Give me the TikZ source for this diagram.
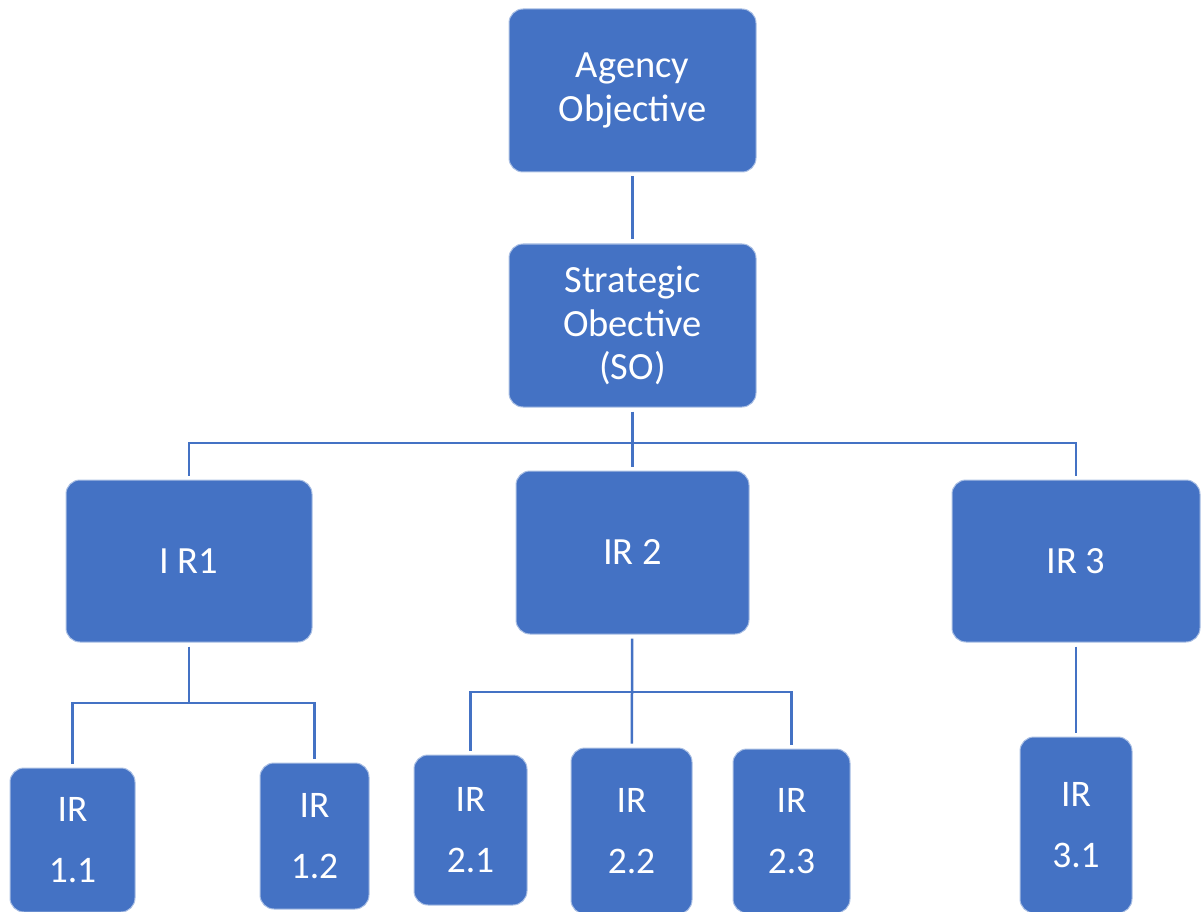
\documentclass[tikz,border=0pt]{standalone}
\usepackage{fontspec}
\setmainfont{Carlito}
\definecolor{boxblue}{HTML}{4472C4}

\tikzset{
  objbox/.style={rectangle, rounded corners=14pt, fill=boxblue, draw=boxblue!45!white, line width=1pt,
    text=white, align=center, inner sep=0pt, font=\fontsize{38.5}{43.5}\selectfont},
  subbox/.style={objbox, font=\fontsize{37.5}{61}\selectfont},
  link/.style={draw=boxblue, line width=2.5pt, shorten >=4pt},
  both/.style={link, shorten <=4pt}
}

\begin{document}
\begin{tikzpicture}[x=1pt, y=-1pt]
  \useasboundingbox (0,0) rectangle (1202,912);
  \clip (0,0) rectangle (1202,912);
  % top levels
  \node[objbox, minimum width=247pt, minimum height=163pt] (agency) at (632.5,90.5) {Agency\\Objective};
  \node[objbox, minimum width=247pt, minimum height=163pt] (so) at (632.5,325.5) {Strategic\\Obective\\(SO)};
  % intermediate results
  \node[objbox, minimum width=246pt, minimum height=162pt] (ir1) at (189,561) {I R1};
  \node[objbox, minimum width=233pt, minimum height=163pt] (ir2) at (632.5,552.5) {IR 2};
  \node[objbox, minimum width=248pt, minimum height=162pt] (ir3) at (1076,561) {IR 3};
  % sub results
  \node[subbox, minimum width=125pt, minimum height=144pt] (ir11) at (72.5,840) {IR\\1.1};
  \node[subbox, minimum width=109pt, minimum height=146pt] (ir12) at (314.5,836) {IR\\1.2};
  \node[subbox, minimum width=113pt, minimum height=150pt] (ir21) at (470.5,830) {IR\\2.1};
  \node[subbox, minimum width=121pt, minimum height=166pt] (ir22) at (631.5,831) {IR\\2.2};
  \node[subbox, minimum width=117pt, minimum height=164pt] (ir23) at (791.5,831) {IR\\2.3};
  \node[subbox, minimum width=112pt, minimum height=176pt] (ir31) at (1076,825) {IR\\3.1};
  % junctions
  \coordinate (j0) at (632.5,443);
  \coordinate (j1) at (189,703);
  \coordinate (j2) at (632.5,692);
  % connectors
  \draw[both] (agency) -- (so);
  \draw[both] (so) -- (ir2);
  \draw[link] (j0) -| (ir1);
  \draw[link] (j0) -| (ir3);
  \draw[both] (ir1) -- (j1) -| (ir11);
  \draw[link] (j1) -| (ir12);
  \draw[both] (ir2) -- (ir22);
  \draw[link] (j2) -| (ir21);
  \draw[link] (j2) -| (ir23);
  \draw[both] (ir3) -- (ir31);
\end{tikzpicture}
\end{document}
